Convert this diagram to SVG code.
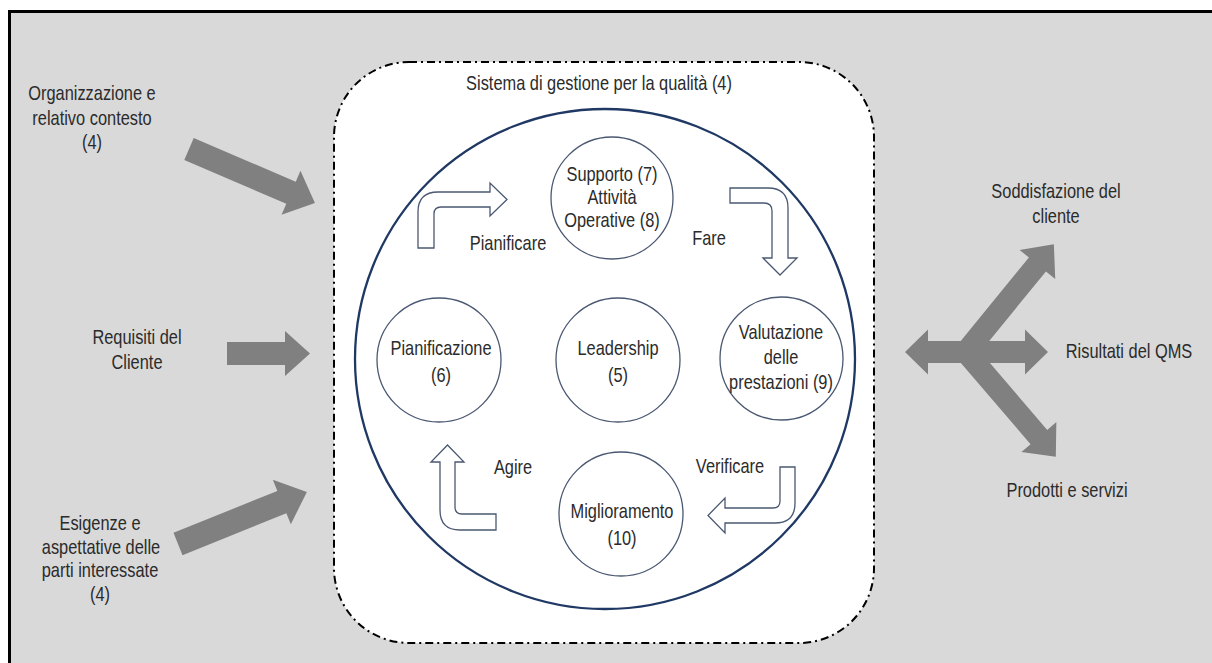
<svg xmlns="http://www.w3.org/2000/svg" width="1212" height="663" viewBox="0 0 1212 663">
  <style>
    text { font-family: "Liberation Sans", Arial, sans-serif; font-size: 20px; fill: #2b2b2b; text-anchor: middle; }
    .node { fill: #ffffff; stroke: #4a5872; stroke-width: 1.3; }
    .block { fill: #808080; stroke: none; }
    .hollow { fill: #ffffff; stroke: #4a5872; stroke-width: 1.3; stroke-linejoin: miter; }
  </style>
  <rect x="0" y="0" width="1212" height="663" fill="#ffffff"/>
  <rect id="frame" x="9.5" y="11.5" width="1220" height="670" fill="#d9d9d9" stroke="#000000" stroke-width="3"/>

  <g id="qms">
    <rect x="334" y="62" width="540" height="581" rx="75" ry="75" fill="#ffffff" stroke="#000000" stroke-width="2" stroke-dasharray="8 4 2 4"/>
    <text transform="translate(599,90) scale(0.82,1)">Sistema di gestione per la qualità (4)</text>
  </g>

  <circle id="cycle" cx="605" cy="359" r="250" fill="none" stroke="#1f3864" stroke-width="2.3"/>

  <g id="supporto">
    <circle class="node" cx="612" cy="198" r="61"/>
    <text transform="translate(612,181) scale(0.82,1)">Supporto (7)</text>
    <text transform="translate(612,204) scale(0.82,1)">Attività</text>
    <text transform="translate(612,227) scale(0.82,1)">Operative (8)</text>
  </g>
  <g id="pianificazione">
    <circle class="node" cx="439" cy="360" r="62"/>
    <text transform="translate(441,355) scale(0.82,1)">Pianificazione</text>
    <text transform="translate(441,382) scale(0.82,1)">(6)</text>
  </g>
  <g id="leadership">
    <circle class="node" cx="618" cy="360" r="62"/>
    <text transform="translate(618,355) scale(0.82,1)">Leadership</text>
    <text transform="translate(618,382) scale(0.82,1)">(5)</text>
  </g>
  <g id="valutazione">
    <circle class="node" cx="781.5" cy="358.5" r="61.5"/>
    <text transform="translate(781,339) scale(0.82,1)">Valutazione</text>
    <text transform="translate(781,364) scale(0.82,1)">delle</text>
    <text transform="translate(781,389) scale(0.82,1)">prestazioni (9)</text>
  </g>
  <g id="miglioramento">
    <circle class="node" cx="621" cy="514" r="62"/>
    <text transform="translate(622,518) scale(0.82,1)">Miglioramento</text>
    <text transform="translate(622,545) scale(0.82,1)">(10)</text>
  </g>

  <g id="input-organizzazione">
    <text transform="translate(92,100) scale(0.82,1)">Organizzazione e</text>
    <text transform="translate(92,125) scale(0.82,1)">relativo  contesto</text>
    <text transform="translate(92,149) scale(0.82,1)">(4)</text>
  </g>
  <g id="input-requisiti">
    <text transform="translate(137,344) scale(0.82,1)">Requisiti del</text>
    <text transform="translate(137,369) scale(0.82,1)">Cliente</text>
  </g>
  <g id="input-esigenze">
    <text transform="translate(100,530) scale(0.82,1)">Esigenze e</text>
    <text transform="translate(101,554) scale(0.82,1)">aspettative  delle</text>
    <text transform="translate(100,577) scale(0.82,1)">parti interessate</text>
    <text transform="translate(100,601) scale(0.82,1)">(4)</text>
  </g>
  <g id="output-soddisfazione">
    <text transform="translate(1056,198) scale(0.82,1)">Soddisfazione del</text>
    <text transform="translate(1056,223) scale(0.82,1)">cliente</text>
  </g>
  <g id="output-risultati">
    <text transform="translate(1129,358) scale(0.82,1)">Risultati  del QMS</text>
  </g>
  <g id="output-prodotti">
    <text transform="translate(1067,497) scale(0.82,1)">Prodotti e servizi</text>
  </g>

  <g id="connectors">
    <polygon class="block" transform="translate(189,149) rotate(23.2)" points="0,-12 111,-12 111,-24 137,0 111,24 111,12 0,12"/>
    <polygon class="block" transform="translate(227,353.5)" points="0,-11.5 58,-11.5 58,-22.5 83,0 58,22.5 58,11.5 0,11.5"/>
    <polygon class="block" transform="translate(178,544) rotate(-22)" points="0,-12 112,-12 112,-24 139,0 112,24 112,12 0,12"/>

    <polygon class="block" points="905,352 928,329.5 928,341 1025,341 1025,329.5 1048,352 1025,374.5 1025,363 928,363 928,374.5"/>
    <polygon class="block" transform="translate(966,352) rotate(-50.8)" points="0,-11 113,-11 113,-23 139,0 113,23 113,11 0,11"/>
    <polygon class="block" transform="translate(966,352) rotate(49.4)" points="0,-11 112,-11 112,-23 138,0 112,23 112,11 0,11"/>

    <path class="hollow" d="M418,248 L418,212 Q418,192 438,192 L490,192 L490,183 L507,199.5 L490,216 L490,207 L441,207 Q434,207 434,214 L434,248 Z"/>
    <path class="hollow" d="M730,188 L768,188 Q788,188 788,208 L788,258 L797,258 L780,275 L763,258 L772,258 L772,211 Q772,203 764,203 L730,203 Z"/>
    <path class="hollow" d="M780,467 L795,467 L795,503 Q795,523 775,523 L725,523 L725,533 L708,515.5 L725,498 L725,508 L773,508 Q780,508 780,501 Z"/>
    <path class="hollow" d="M496,514 L462,514 Q455,514 455,507 L455,462 L464,462 L447.5,445 L431,462 L440,462 L440,510 Q440,530 460,530 L496,530 Z"/>
    <text transform="translate(508,250) scale(0.82,1)">Pianificare</text>
    <text transform="translate(709,245) scale(0.82,1)">Fare</text>
    <text transform="translate(730,473) scale(0.82,1)">Verificare</text>
    <text transform="translate(513,474) scale(0.82,1)">Agire</text>
  </g>
</svg>
